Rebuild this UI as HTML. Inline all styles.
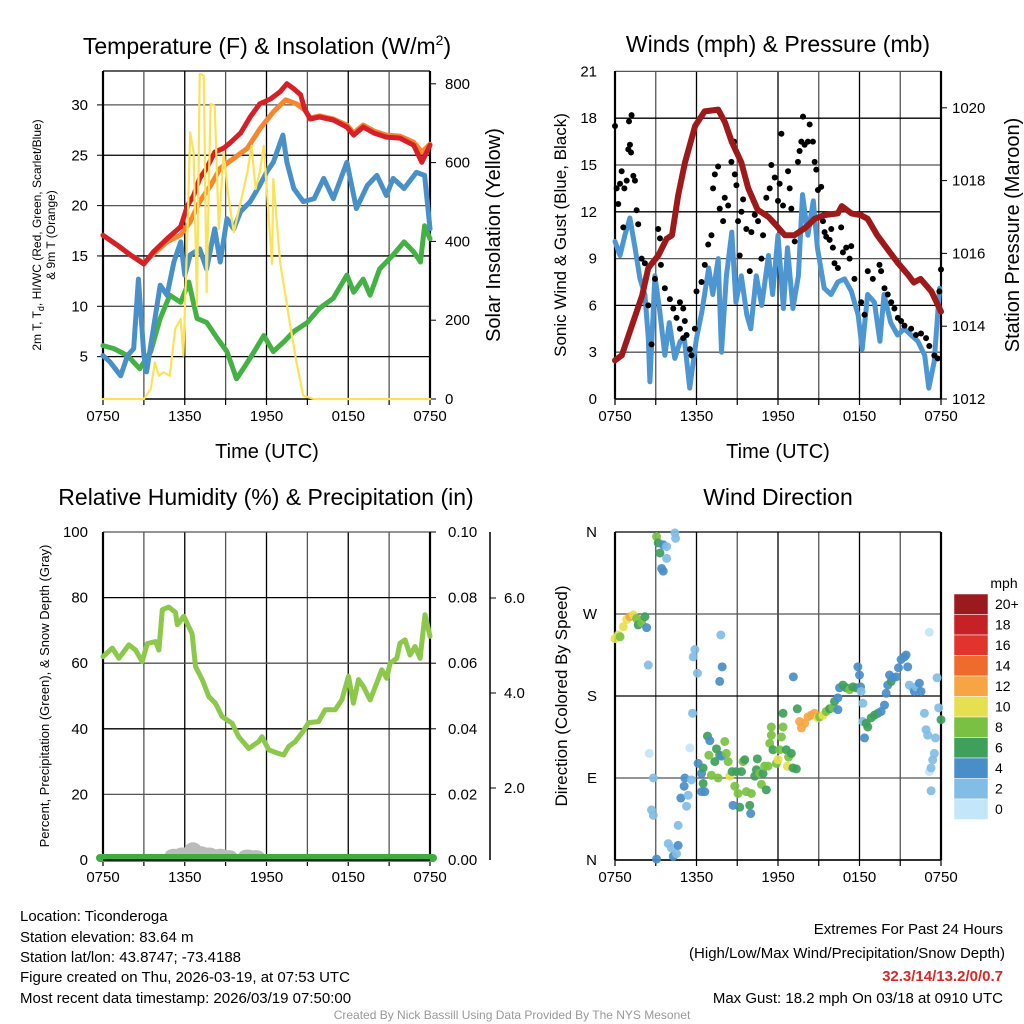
<!DOCTYPE html>
<html><head><meta charset="utf-8">
<style>
html,body{margin:0;padding:0;background:#fff;}
svg{display:block;font-family:"Liberation Sans",sans-serif;}
</style></head>
<body>
<svg id="c" width="1024" height="1024" viewBox="0 0 1024 1024" xmlns="http://www.w3.org/2000/svg">
<rect width="1024" height="1024" fill="#fff"/>
<g id="g1"></g>
<g id="g2"></g>
<g id="g3"></g>
<g id="g4"></g>

<text x="267" y="54" font-size="23" text-anchor="middle">Temperature (F) &amp; Insolation (W/m<tspan dy="-9" font-size="14">2</tspan><tspan dy="9">)</tspan></text>
<text x="778" y="52" font-size="23" text-anchor="middle">Winds (mph) &amp; Pressure (mb)</text>
<text x="266" y="505" font-size="23" text-anchor="middle">Relative Humidity (%) &amp; Precipitation (in)</text>
<text x="778" y="505" font-size="23" text-anchor="middle">Wind Direction</text>

<text x="267" y="458" font-size="20" text-anchor="middle">Time (UTC)</text>
<text x="778" y="458" font-size="20" text-anchor="middle">Time (UTC)</text>

<text transform="translate(41,235) rotate(-90)" font-size="12" text-anchor="middle">2m T, T<tspan dy="3" font-size="9">d</tspan><tspan dy="-3">, HI/WC (Red, Green, Scarlet/Blue)</tspan></text>
<text transform="translate(55,235) rotate(-90)" font-size="12" text-anchor="middle">&amp; 9m T (Orange)</text>
<text transform="translate(500,235) rotate(-90)" font-size="20" text-anchor="middle">Solar Insolation (Yellow)</text>
<text transform="translate(566,235) rotate(-90)" font-size="17" text-anchor="middle">Sonic Wind &amp; Gust (Blue, Black)</text>
<text transform="translate(1019,235) rotate(-90)" font-size="20" text-anchor="middle">Station Pressure (Maroon)</text>
<text transform="translate(49,696) rotate(-90)" font-size="13" text-anchor="middle">Percent, Precipitation (Green), &amp; Snow Depth (Gray)</text>
<text transform="translate(567,696) rotate(-90)" font-size="17" text-anchor="middle">Direction (Colored By Speed)</text>

<g font-size="15">
<text x="20" y="921">Location: Ticonderoga</text>
<text x="20" y="942">Station elevation: 83.64 m</text>
<text x="20" y="962">Station lat/lon: 43.8747; -73.4188</text>
<text x="20" y="982">Figure created on Thu, 2026-03-19, at 07:53 UTC</text>
<text x="20" y="1003">Most recent data timestamp: 2026/03/19 07:50:00</text>
</g>
<g font-size="15" text-anchor="end">
<text x="1003" y="934">Extremes For Past 24 Hours</text>
<text x="1005" y="958">(High/Low/Max Wind/Precipitation/Snow Depth)</text>
<text x="1003" y="981" fill="#d42a2a" font-weight="bold">32.3/14/13.2/0/0.7</text>
<text x="1003" y="1003">Max Gust: 18.2 mph On 03/18 at 0910 UTC</text>
</g>
<text x="512" y="1019" font-size="12" fill="#999" text-anchor="middle">Created By Nick Bassill Using Data Provided By The NYS Mesonet</text>
</svg>
<script>
// ---------- Panel 1 data ----------
var tRed=[0,1.03,2,3,3.7,4.7,5.7,6.2,6.65,7.1,7.6,8.2,8.85,9.3,10.1,10.8,11.5,12.3,13,13.5,14,14.5,14.8,15.2,15.9,16.9,17.9,18.4,19.1,19.9,20.8,21.8,22.8,23.4,24];
var vRed=[17.05,16.1,15.1,14.2,15.4,16.7,17.9,20,21,22.7,23.7,25.3,25.7,26.2,27.2,28.8,30.1,30.6,31.3,32.1,31.6,31,29.6,28.6,28.8,28.5,27.8,27,27.8,27.2,26.8,26.7,26,24.3,26];
var tOrange=[0,1.03,2,3,3.7,4.7,5.7,6.4,7.1,7.9,8.6,9.6,10.6,11.5,12.5,13.4,14.2,14.8,15.2,15.9,16.9,17.9,18.4,19.1,19.9,20.8,21.8,22.8,23.4,24];
var vOrange=[17.05,16.1,15.1,14.3,15.2,16.4,17.1,18.4,20.4,22,23.7,24.7,25.7,27.6,29.3,30.5,30.1,29.5,28.7,28.9,28.6,28,27.2,28,27.4,27,26.9,26.3,25.3,26.1];
var tBlue=[0,0.5,1.3,1.8,2.25,2.6,3,3.2,3.7,4.2,4.7,5.2,5.7,6,6.4,7.1,7.6,8.2,8.6,9.1,9.6,10.1,10.8,11.5,12,12.5,13.2,13.5,14,14.7,15.5,16.2,16.9,17.9,18.6,19.4,20.1,20.8,21.3,22.1,23,23.6,24];
var vBlue=[5.1,4.5,3.1,5.1,5.8,12.7,5.1,3.5,7.8,12.1,11.1,14.4,16.4,13.1,15.1,15.7,13.7,17.7,14.4,18.7,17.7,19.4,20.4,22,23.3,24.3,27,24.3,21.7,20.4,20.7,22.7,20.7,24.3,19.7,22,23,21,22.7,21.7,23.3,23,17.7];
var tGreen=[0,0.8,1.8,2.7,3.5,4.2,4.9,5.7,6.3,6.9,7.6,8.4,9.1,9.8,10.3,11.1,11.8,12.5,13.3,14,15,15.9,16.9,17.9,18.4,19.1,19.6,20.3,21.3,22.1,22.8,23.3,23.6,24];
var vGreen=[6.1,5.8,5.1,3.8,5.5,8.8,11.1,10.4,12.4,8.8,8.4,6.8,5.5,2.8,3.8,5.5,7.1,5.5,6.5,7.5,8.4,9.8,10.8,13.1,11.4,12.7,11.1,13.7,15.1,16.4,15.4,14.4,18,16.7];
var tSolar=[0,3,3.5,3.8,4.1,4.45,4.9,5.3,5.7,5.9,6.2,6.4,6.65,6.9,7.1,7.4,7.6,7.9,8.2,8.5,8.85,9.2,9.6,10.1,10.6,10.9,11.2,11.5,11.8,12,12.4,12.5,13,13.7,14.2,14.7,15.5,24];
var vSolar=[0,0,25,93,59,68,59,178,203,110,431,677,626,237,825,821,271,749,744,431,626,516,423,499,575,643,533,575,643,541,343,558,347,195,93,8,0,0];
var tempTicks=[5,10,15,20,25,30];
var solarTicks=[0,200,400,600,800];
var timeTickLabels=["0750","1350","1950","0150","0750"];
// ---------- Panel 2 data ----------
var tPres=[0,0.5,1,1.5,2,2.45,3.2,3.8,4.2,4.65,5.15,5.9,6.6,7.6,8.1,8.6,9.3,9.8,10.5,11.3,11.8,12.5,13.2,14,14.7,15.4,16.4,16.7,17.4,18.1,18.6,19.3,20.1,20.8,21.6,22,22.5,23.3,24];
var vPres=[1013.06,1013.2,1013.75,1014.3,1014.85,1015.6,1015.95,1016.4,1016.5,1017.6,1018.5,1019.5,1019.9,1019.95,1019.6,1019.06,1018.5,1017.8,1017.2,1017,1016.8,1016.5,1016.5,1016.7,1016.95,1017.05,1017.1,1017.3,1017.1,1017.05,1016.95,1016.5,1016.1,1015.75,1015.4,1015.2,1015.3,1014.95,1014.4];
var tWind=[0,0.37,0.73,1.1,1.47,1.84,2.2,2.45,2.57,2.94,3.3,3.67,4,4.4,4.8,5.1,5.5,6,6.4,6.9,7.2,7.6,7.84,8.2,8.6,8.9,9.3,9.7,10,10.4,10.8,11.3,11.6,12,12.4,12.7,13.1,13.5,13.8,14.2,14.6,14.9,15.4,15.9,16.4,16.9,17.4,17.9,18.2,18.6,19.1,19.5,19.8,20.3,20.8,21.3,21.8,22.3,22.8,23.1,23.5,23.9];
var vWind=[10.1,9.2,10.5,11.6,9.7,7.7,6.7,3.9,1.1,7.9,5.6,2.8,4.9,2.6,3.7,3.9,0.7,3.9,5.6,8.4,6.7,9,3,7.9,10.7,6.2,7.9,5.4,4.5,7.9,6,9.2,6.7,10.5,5.8,9.7,5.8,7.9,13.1,10.5,12.7,9.7,7.1,6.7,7.5,7.7,6.9,5.4,3.2,6.7,6.2,3.7,6.7,4.9,4.1,4.5,4.1,3.7,2.8,0.7,2.4,7.1];
var tGust=[0,0.12,0.24,0.37,0.49,0.69,0.86,0.98,1.1,1.18,1.22,1.03,1.35,1.47,1.59,1.71,0.61,1.96,2.2,2.45,2.69,2.94,3.18,3.31,3.38,3.67,4.04,4.29,4.53,4.78,5.02,5.14,5.27,4.78,5.02,5.51,5.63,5.88,6,6.37,6.61,6.86,7.1,7.22,7.35,7.59,7.71,7.96,8.08,8.33,8.57,8.77,8.82,8.94,9.06,9.18,9.31,9.43,9.67,9.92,10.04,10.29,10.53,10.78,10.9,11.14,11.39,11.51,11.76,12,12.12,12.25,12.37,12.74,12.86,12.98,13.23,13.47,13.59,13.72,13.84,13.96,14.2,14.33,14.57,14.7,14.82,14.94,15.18,15.31,15.43,15.55,15.8,15.92,16.04,16.16,16.41,16.65,16.78,17.02,17.27,17.39,17.63,18.12,18.37,18.61,18.98,19.47,19.59,19.84,20.08,20.33,20.57,20.82,21.06,21.31,21.8,22.16,22.53,22.9,23.14,23.51,23.76,23.88,24];
var vGust=[17.5,13.5,12.5,13.8,14.6,13.5,14,16,16.3,15.8,18.2,17.8,14.3,14,12.1,11.2,11,9,8.7,6,3.5,7.7,10.9,10.3,8.6,7.1,6.4,5.8,5.2,6.2,5.8,5,4.1,4.5,3.9,3.2,2.8,4.5,6.9,7.5,8.6,9.9,10.5,13.5,14.4,14.9,12.2,11.4,12.9,12.4,15.2,16.5,14.4,13.7,11.4,9.2,12,12.8,10.9,8.2,10.7,11.8,11.4,9,10.5,12.9,13.5,15,14.2,12.7,13.8,17,12.4,14.6,13.5,12.2,10.1,15.2,15.9,16.5,18.1,16.3,16.5,17.6,16.5,15.2,14.7,13.4,13.6,11.4,10.7,10.4,10.2,10.9,9.7,8.7,8.4,11,9.4,9.7,9,9.8,7.7,6.2,5.4,8.2,7.7,8.6,8.2,7.1,6.7,6.2,5.8,5.2,5,4.7,4.5,4.1,4.2,3.9,3.4,2.8,2.6,6.9,8.3];
var windTicks=[0,3,6,9,12,15,18,21];
var presTicks=[1012,1014,1016,1018,1020];
// ---------- Panel 3 data ----------
var tRH=[0,0.68,1.17,1.9,2.39,2.88,3.25,3.86,4.1,4.35,4.83,5.32,5.45,5.93,6.54,6.79,7.28,7.77,8.25,8.74,9.47,9.96,10.7,11.43,11.67,12.16,12.8,13.26,13.63,14.11,14.6,15.09,15.82,16.31,17.04,17.53,18.02,18.38,18.75,19.11,19.6,20.09,20.46,20.82,21.07,21.56,21.8,22.17,22.53,22.9,23.27,23.63,24];
var vRH=[62,64.6,61.5,65.6,64,60.5,66,66.6,64,76.3,77.1,75.5,71.7,74.3,69,59,55,49.8,47.8,43.7,41.7,37.6,34,36.1,37.6,33.6,32.6,32,34.6,36.1,38.7,41.9,42.2,45.8,45.8,48.8,56,47.8,55,52.9,48.8,53.9,58,55.4,60,61.5,66.1,67.1,62.5,65.1,61.5,74.8,68.2];
var tSnow=[5.2,5.8,6.6,7.2,7.8,8.6,9.2,10.6,11.2];
var vSnow=[0.4,0.5,0.9,0.6,0.5,0.4,0.3,0.35,0.3];
var rhTicks=[0,20,40,60,80,100];
var precipTickLabels=["0.00","0.02","0.04","0.06","0.08","0.10"];
var snowTicks=[2,4,6];
// ---------- Panel 4 data ----------
var tDir=[0,0.24,0.37,0.61,0.86,1.1,1.35,1.59,1.71,1.96,2.2,2.33,2.45,2.82,2.69,2.82,2.52,3.06,3.18,3.31,3.55,3.8,3.43,3.55,3.8,4.41,4.46,3.06,3.92,4.16,4.29,4.53,4.65,4.65,4.85,5.09,5.14,5.27,5.39,5.51,5.63,5.71,5.76,5.88,6.07,6.12,6.37,6.49,6.49,6.37,6.61,6.81,6.98,6.91,7.1,7.35,7.47,7.59,7.71,7.84,8.08,8.2,8.33,7.79,7.89,7.71,8.45,8.62,8.82,8.94,9.06,9.18,9.31,9.43,9.55,9.67,9.92,9.99,10.04,8.69,10.29,10.41,10.48,10.65,10.78,10.9,11.02,11.14,11.27,11.39,11.51,11.51,11.63,11.88,12,12.12,12.25,12.37,12.37,12.61,12.69,12.78,12.98,13.1,13.35,13.13,13.42,13.59,13.72,13.96,14.2,14.45,14.69,14.94,15.06,15.31,15.55,15.8,16.04,16.16,16.41,16.41,16.53,16.78,17.02,17.27,17.51,17.76,17.88,18,18.08,18.12,18.25,18.25,18.37,18.49,18.61,18.86,19.1,19.35,19.59,19.84,19.96,20.08,20.21,20.33,20.45,20.7,20.87,21.06,21.31,21.43,21.55,21.67,21.92,22.04,22.17,22.41,22.53,22.78,22.9,23.02,23.14,23.27,23.39,23.51,23.27,23.59,23.14,23.71,23.83,24];
var vDir=[243,247,245,256,264,267,269,265,258,260,267,255,214,90,55,49,117,355,348,337,346,344,320,317,331,359,353,1,18,13,4,7,16,38,68,81,90,59,71,123,88,161,223,231,205,106,95,101,84,75,75,136,131,115,93,108,122,90,115,114,130,117,108,247,212,196,92,97,81,97,73,58,97,108,110,75,60,51,73,60,92,99,111,95,83,95,103,77,103,128,137,146,121,106,110,121,135,146,161,121,103,113,117,101,100,201,166,152,145,150,157,159,161,156,157,159,163,166,167,174,178,165,189,192,189,187,190,189,212,203,190,185,172,152,134,150,146,156,159,161,163,170,183,192,203,196,200,201,211,220,223,225,212,192,189,185,190,194,185,161,143,137,97,101,110,117,76,134,250,200,167,154];
var sDir=[10,10,8,10,10,12,10,8,6,8,6,4,2,2,2,2,0,8,6,6,4,2,4,4,2,2,2,4,2,2,4,2,4,2,4,4,4,2,2,0,2,2,2,2,2,4,4,6,6,4,4,6,4,8,8,6,6,8,6,4,8,8,8,2,4,4,10,6,8,6,8,6,6,8,6,8,6,4,8,4,6,6,6,8,8,6,8,6,8,8,8,8,6,8,10,8,8,8,6,6,10,8,6,6,6,4,6,12,12,12,12,12,12,10,8,10,8,6,8,6,4,4,4,6,6,8,6,6,4,4,4,2,2,2,4,6,6,6,6,6,4,4,4,4,4,6,4,4,4,4,4,4,4,2,2,4,2,4,4,2,2,2,0,2,2,2,2,2,0,2,2,6];
var speedLabels=["20+","18","16","14","12","10","8","6","4","2","0"];
var speedColors=["#9b1a1e","#c62127","#e0342c","#ef6a2d","#f7a544","#e6df4f","#7ac143","#3ea05b","#4a8ec9","#82bde6","#c3e6f8"];
</script>
<script>
var NS="http://www.w3.org/2000/svg";
function mk(tag,parent,attrs){var e=document.createElementNS(NS,tag);for(var k in attrs)e.setAttribute(k,attrs[k]);parent.appendChild(e);return e;}
function txt(parent,x,y,s,anchor,size,name){var e=mk("text",parent,{x:x,y:y,"font-size":size||15,"text-anchor":anchor||"middle"});e.textContent=s;


return e;}
function pathFrom(parent,ts,vs,xf,yf,color,w,name){var d="";for(var i=0;i<ts.length;i++){d+=(i?"L":"M")+xf(ts[i]).toFixed(1)+","+yf(vs[i]).toFixed(1);}
var p=mk("path",parent,{d:d,fill:"none",stroke:color,"stroke-width":w,"stroke-linejoin":"round","stroke-linecap":"round"});


return p;}
function frame(g,x0,x1,y0,y1,hGrid,yf){
  for(var h=0;h<=24;h+=3){var x=x0+(x1-x0)*h/24;var l=mk("line",g,{x1:x,x2:x,y1:y0,y2:y1,stroke:(h%6==0?"#000":"#555"),"stroke-width":1.3});
  
  
  var tk=mk("line",g,{x1:x,x2:x,y1:y1,y2:y1+6,stroke:"#000","stroke-width":1.2});
  
  }
  for(var i=0;i<hGrid.length;i++){var y=yf(hGrid[i]);var l2=mk("line",g,{x1:x0,x2:x1,y1:y,y2:y,stroke:(i%2?"#555":"#000"),"stroke-width":1.3});
  
  }
  var r=mk("line",g,{x1:x0,x2:x0,y1:y0,y2:y1,stroke:"#000","stroke-width":2.2});
  
  
  var r2=mk("line",g,{x1:x1,x2:x1,y1:y0,y2:y1,stroke:"#000","stroke-width":2.2});
  
  
  var r3=mk("line",g,{x1:x0,x2:x1,y1:y1,y2:y1,stroke:"#000","stroke-width":1.5});
  
  
  for(var j=0;j<timeTickLabels.length;j++){txt(g,x0+(x1-x0)*j/4,y1+22,timeTickLabels[j],"middle",15,"x-tick-label");}
}
// ---- Panel 1 ----
(function(){
var g=document.getElementById("g1");var x0=103,x1=430,y0=71,y1=399;
var X=function(t){return x0+(x1-x0)*t/24;};
var YT=function(v){return 407-v*10.07;};
var YS=function(w){return 399-w*0.394;};
var top=mk("line",g,{x1:x0,x2:x1,y1:y0,y2:y0,stroke:"#000","stroke-width":1.3});


frame(g,x0,x1,y0,y1,tempTicks,YT);
for(var i=0;i<tempTicks.length;i++){txt(g,88,YT(tempTicks[i])+5,String(tempTicks[i]),"end",15,"temp-tick-label");
var tk=mk("line",g,{x1:x0-6,x2:x0,y1:YT(tempTicks[i]),y2:YT(tempTicks[i]),stroke:"#000"});

}
for(var k=0;k<solarTicks.length;k++){txt(g,445,YS(solarTicks[k])+5,String(solarTicks[k]),"start",15,"solar-tick-label");
var tk2=mk("line",g,{x1:x1,x2:x1+6,y1:YS(solarTicks[k]),y2:YS(solarTicks[k]),stroke:"#000"});

}
pathFrom(g,tGreen,vGreen,X,YT,"#43b143",5,"dewpoint-line");
pathFrom(g,tBlue,vBlue,X,YT,"#4a90c8",5,"wind-chill-line");
pathFrom(g,tOrange,vOrange,X,YT,"#f7862f",5,"temp-9m-line");
pathFrom(g,tRed,vRed,X,YT,"#d62028",5,"temp-2m-line");
pathFrom(g,tSolar,vSolar,X,YS,"#fbe258",2.2,"insolation-line");
})();
// ---- Panel 2 ----
(function(){
var g=document.getElementById("g2");var x0=615,x1=941,y0=71,y1=399;
var X=function(t){return x0+(x1-x0)*t/24;};
var YW=function(v){return 399-v*15.6;};
var YP=function(p){return 399-(p-1012)*36.4;};
frame(g,x0,x1,y0,y1,windTicks,YW);
for(var i=0;i<windTicks.length;i++){txt(g,597,YW(windTicks[i])+5,String(windTicks[i]),"end",15,"wind-tick-label");}
for(var k=0;k<presTicks.length;k++){txt(g,952,YP(presTicks[k])+5,String(presTicks[k]),"start",15,"pressure-tick-label");
var tk=mk("line",g,{x1:x1,x2:x1+6,y1:YP(presTicks[k]),y2:YP(presTicks[k]),stroke:"#000"});

}
pathFrom(g,tWind,vWind,X,YW,"#4d96d1",5,"sonic-wind-line");
for(var j=0;j<tGust.length;j++){var c=mk("circle",g,{cx:X(tGust[j]),cy:YW(vGust[j]),r:3,fill:"#000"});

}
pathFrom(g,tPres,vPres,X,YP,"#9e1a1a",6,"pressure-line");
})();
// ---- Panel 3 ----
(function(){
var g=document.getElementById("g3");var x0=103,x1=430,y0=532,y1=860;
var X=function(t){return x0+(x1-x0)*t/24;};
var Y=function(v){return 860-v*3.28;};
var YS=function(s){return 883-s*47.5;};
frame(g,x0,x1,y0,y1,rhTicks,Y);
for(var i=0;i<rhTicks.length;i++){txt(g,88,Y(rhTicks[i])+5,String(rhTicks[i]),"end",15,"rh-tick-label");
txt(g,448,Y(rhTicks[i])+5,precipTickLabels[i],"start",15,"precip-tick-label");
var tk=mk("line",g,{x1:x1,x2:x1+6,y1:Y(rhTicks[i]),y2:Y(rhTicks[i]),stroke:"#000"});

}
var ax=mk("line",g,{x1:490,x2:490,y1:y0,y2:y1,stroke:"#000","stroke-width":1.5});


for(var s=0;s<snowTicks.length;s++){txt(g,504,YS(snowTicks[s])+5,snowTicks[s].toFixed(1),"start",15,"snow-tick-label");
var st=mk("line",g,{x1:490,x2:496,y1:YS(snowTicks[s]),y2:YS(snowTicks[s]),stroke:"#000"});

}
for(var j=0;j<tSnow.length;j++){var b=mk("ellipse",g,{cx:X(tSnow[j]),cy:858-vSnow[j]*8,rx:9,ry:4+vSnow[j]*5,fill:"#bbb"});

}
var pr=mk("line",g,{x1:x0-3,x2:x1+3,y1:y1-2,y2:y1-2,stroke:"#3fac3f","stroke-width":8,"stroke-linecap":"round"});


var bl=mk("line",g,{x1:x0,x2:x1,y1:y1,y2:y1,stroke:"#000","stroke-width":1.5});


pathFrom(g,tRH,vRH,X,Y,"#8cc84b",5,"humidity-line");
})();
// ---- Panel 4 ----
(function(){
var g=document.getElementById("g4");var x0=615,x1=941,y0=532,y1=860;
var X=function(t){return x0+(x1-x0)*t/24;};
var Y=function(d){return 860-d*328/360;};
var dirTicks=[0,90,180,270,360];var dirLabels=["N","E","S","W","N"];
frame(g,x0,x1,y0,y1,dirTicks,Y);
for(var i=0;i<dirTicks.length;i++){txt(g,597,Y(dirTicks[i])+5,dirLabels[i],"end",15,"direction-tick-label");}
for(var j=0;j<tDir.length;j++){var idx=10-Math.min(10,Math.round(sDir[j]/2));
var c=mk("circle",g,{cx:X(tDir[j]),cy:Y(vDir[j]),r:4.5,fill:speedColors[idx],"fill-opacity":0.92});

}
txt(g,1004,588,"mph","middle",14,"colorbar-title");
for(var k=0;k<speedLabels.length;k++){var yy=594+k*20.5;
var r=mk("rect",g,{x:954,y:yy,width:34,height:20.5,fill:speedColors[k],stroke:"#fff","stroke-width":0.5});


txt(g,995,yy+15,speedLabels[k],"start",14,"colorbar-label");}
})();
</script>
</body></html>
